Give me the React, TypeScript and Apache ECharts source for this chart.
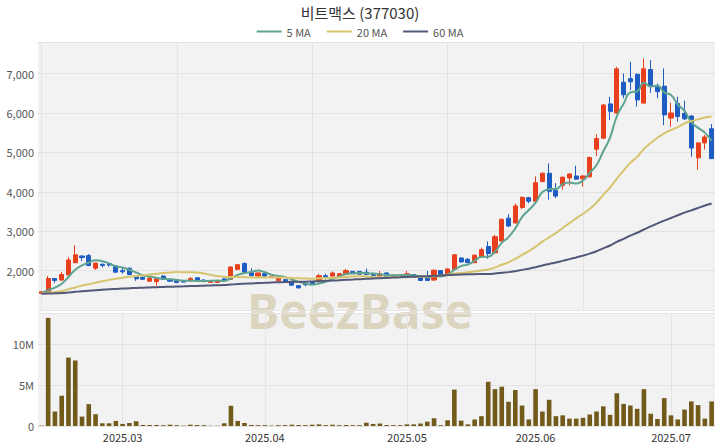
import { useEffect, useRef } from 'react';
import * as echarts from 'echarts';

const dates = [
  '2025-02-13','2025-02-14','2025-02-17','2025-02-18','2025-02-19','2025-02-20','2025-02-21','2025-02-24','2025-02-25','2025-02-26','2025-02-27','2025-02-28',
  '2025-03-03','2025-03-04','2025-03-05','2025-03-06','2025-03-07','2025-03-10','2025-03-11','2025-03-12','2025-03-13','2025-03-14','2025-03-17','2025-03-18','2025-03-19','2025-03-20','2025-03-21','2025-03-24','2025-03-25','2025-03-26','2025-03-27','2025-03-28','2025-03-31',
  '2025-04-01','2025-04-02','2025-04-03','2025-04-04','2025-04-07','2025-04-08','2025-04-09','2025-04-10','2025-04-11','2025-04-14','2025-04-15','2025-04-16','2025-04-17','2025-04-18','2025-04-21','2025-04-22','2025-04-23','2025-04-24','2025-04-25','2025-04-28','2025-04-29',
  '2025-05-02','2025-05-07','2025-05-08','2025-05-09','2025-05-12','2025-05-13','2025-05-14','2025-05-15','2025-05-16','2025-05-19','2025-05-20','2025-05-21','2025-05-22','2025-05-23','2025-05-26','2025-05-27','2025-05-28','2025-05-29','2025-05-30',
  '2025-06-02','2025-06-04','2025-06-05','2025-06-09','2025-06-10','2025-06-11','2025-06-12','2025-06-13','2025-06-16','2025-06-17','2025-06-18','2025-06-19','2025-06-20','2025-06-23','2025-06-24','2025-06-25','2025-06-26','2025-06-27','2025-06-30','2025-06-30b',
  '2025-07-01','2025-07-02','2025-07-03','2025-07-04','2025-07-07','2025-07-08','2025-07-09'
];

const opens = [1420,1460,1800,1760,1890,2200,2370,2380,2060,2160,2180,2120,2000,2060,1860,1830,1730,1720,1860,1780,1770,1720,1740,1820,1760,1700,1700,1790,1780,2030,2180,1950,1860,1920,1830,1740,1770,1730,1620,1680,1700,1720,1870,1860,1860,1900,1980,1980,1960,1920,1860,1940,1850,1860,1850,1900,1840,1840,1760,2000,1920,2030,2320,2290,2200,2350,2610,2450,2750,3330,3210,3600,3850,3760,4260,4470,4040,4160,4350,4400,4330,4380,5080,5360,6230,6000,6780,6870,6980,6250,7100,6660,6680,5870,6240,5990,5920,4860,5240,5600];
const closes = [1460,1800,1750,1900,2270,2400,2330,2130,2190,2130,2140,1960,1970,1900,1790,1780,1810,1800,1780,1730,1700,1710,1800,1740,1720,1730,1740,1750,2090,2150,1960,1870,1940,1860,1845,1810,1720,1630,1560,1640,1660,1870,1845,1940,1920,2000,1930,1910,1900,1880,1920,1830,1880,1890,1920,1850,1750,1750,2010,1900,2040,2400,2220,2200,2390,2530,2430,2860,3300,3130,3640,3860,3760,4230,4470,4010,3890,4370,4450,4320,4400,4870,5350,6200,6040,7120,6460,6790,6330,7120,6670,6540,5950,6000,5910,5850,5110,5240,5390,4840];
const lows = [1410,1440,1690,1740,1880,2190,2240,2110,2020,2080,2100,1950,1920,1880,1740,1760,1720,1620,1770,1710,1680,1700,1730,1730,1710,1690,1690,1740,1770,2020,1940,1860,1850,1850,1820,1730,1710,1620,1550,1600,1650,1710,1770,1850,1850,1890,1920,1900,1890,1840,1850,1820,1840,1850,1840,1840,1740,1740,1740,1890,1910,2020,2200,2190,2190,2340,2300,2430,2740,3110,3190,3560,3710,3740,4240,3800,3840,4050,4160,4300,4130,4360,4900,5340,5820,5980,6370,6580,6160,6240,6510,6370,5690,5650,5780,5820,4890,4560,5070,4830];
const highs = [1470,1860,1810,1970,2340,2640,2390,2420,2200,2180,2200,2140,2080,2080,1880,1840,1830,1820,1880,1790,1780,1740,1840,1830,1780,1740,1750,1800,2110,2160,2210,2060,1950,1930,1850,1830,1780,1740,1630,1700,1710,1920,1920,1980,1940,2040,1990,1990,2050,1950,1990,1950,1900,1900,1990,1910,1850,1990,2030,2010,2060,2420,2340,2310,2410,2580,2740,2910,3320,3430,3700,3880,3870,4390,4490,4720,4220,4390,4470,4660,4420,4890,5460,6230,6410,7170,7000,7300,7000,7380,7340,6750,7130,6260,6410,6310,5950,5260,5440,5720];

const volumesM = [0.05,13.2,1.77,3.7,8.35,8.0,1.15,2.67,1.44,0.33,0.33,0.62,0.25,0.37,0.58,0.12,0.12,0.12,0.1,0.16,0.1,0.05,0.16,0.12,0.1,0.03,0.03,0.33,2.47,0.62,0.37,0.12,0.1,0.1,0.05,0.1,0.1,0.16,0.12,0.1,0.16,0.2,0.1,0.16,0.1,0.12,0.1,0.1,0.4,0.25,0.3,0.12,0.1,0.1,0.2,0.2,0.3,0.53,0.95,0.1,0.7,4.45,0.66,0.2,0.8,1.2,5.4,4.5,4.8,2.96,4.4,2.5,0.8,4.5,1.77,3.2,1.2,1.3,0.9,0.9,1.0,1.4,1.77,2.4,1.36,4.0,2.7,2.5,2.1,4.5,1.5,0.86,3.4,1.3,0.8,2.0,3.0,2.55,0.9,3.0];

const ma5 = [1428,1504,1570,1666,1836,2024,2130,2206,2264,2236,2184,2110,2078,2020,1952,1880,1850,1816,1792,1780,1764,1744,1744,1736,1734,1740,1746,1736,1806,1892,1938,1964,2002,1956,1895,1865,1835,1773,1713,1672,1642,1672,1715,1791,1847,1915,1927,1940,1932,1924,1908,1888,1882,1880,1888,1874,1858,1832,1856,1852,1890,2020,2114,2152,2250,2348,2354,2482,2702,2850,3072,3358,3538,3724,3992,4066,4072,4194,4238,4208,4286,4482,4678,5028,5372,5916,6234,6522,6548,6764,6674,6690,6522,6456,6214,6050,5764,5622,5500,5286];
const ma20 = [1422,1441,1458,1482,1524,1573,1619,1654,1693,1728,1764,1791,1819,1843,1861,1879,1899,1918,1936,1951,1963,1959,1961,1953,1926,1892,1863,1844,1839,1840,1831,1826,1825,1823,1825,1827,1822,1814,1803,1798,1796,1804,1807,1817,1827,1840,1850,1858,1848,1835,1833,1831,1828,1829,1833,1835,1836,1842,1865,1878,1897,1923,1942,1955,1979,2005,2030,2078,2148,2210,2296,2398,2492,2609,2736,2844,2951,3082,3204,3325,3443,3567,3723,3923,4106,4335,4537,4733,4885,5084,5236,5370,5479,5568,5640,5732,5793,5836,5883,5909];
const ma60 = [1410,1416,1422,1430,1445,1461,1476,1488,1501,1514,1526,1535,1544,1552,1559,1565,1572,1578,1584,1590,1595,1600,1606,1612,1617,1622,1628,1633,1645,1657,1666,1674,1683,1690,1698,1704,1709,1713,1716,1719,1724,1731,1739,1747,1756,1766,1774,1783,1791,1799,1807,1814,1822,1830,1839,1846,1852,1857,1867,1876,1885,1895,1903,1908,1910,1912,1914,1926,1945,1961,1986,2018,2048,2087,2131,2169,2203,2246,2291,2334,2379,2431,2491,2565,2637,2727,2805,2889,2960,3043,3121,3199,3266,3335,3403,3470,3527,3587,3651,3704];

const UP = '#e8401c';
const DOWN = '#1f5cc2';
const MA5C = '#5ea38f';
const MA20C = '#d6c46e';
const MA60C = '#515878';
const VOLC = '#725a1b';
const FONT = '"Noto Sans CJK KR", "Noto Sans", sans-serif';

const monthStart = (idx: number) =>
  idx > 0 && dates[idx].slice(0, 7) !== dates[idx - 1].slice(0, 7);

export default function App() {
  const ref = useRef<HTMLDivElement>(null);
  useEffect(() => {
    document.body.style.margin = '0';
    if (!ref.current) return;
    const chart = echarts.init(ref.current, undefined, { renderer: 'svg' });
    const candleData = opens.map((o, i) => [o, closes[i], lows[i], highs[i]]);
    const gridLine = { color: '#e3e3e3', width: 1 };
    chart.setOption({
      animation: false,
      textStyle: { fontFamily: FONT },
      title: {
        text: '비트맥스 (377030)',
        left: 'center',
        top: 0,
        padding: [3, 5, 2, 5],
        textStyle: { fontSize: 15, fontWeight: 'normal', color: '#333', fontFamily: FONT, lineHeight: 18 },
      },
      legend: {
        top: 25,
        left: 'center',
        padding: [0, 5, 0, 5],
        icon: 'rect',
        itemWidth: 25,
        itemHeight: 2,
        itemGap: 16,
        textStyle: { fontSize: 11, color: '#555', fontFamily: FONT, lineHeight: 13 },
        data: ['5 MA', '20 MA', '60 MA'],
      },
      graphic: [
        {
          type: 'text',
          left: 'center',
          top: 286,
          z: 0,
          zlevel: 0,
          silent: true,
          style: {
            text: 'BeezBase',
            fill: 'rgba(196,184,140,0.5)',
            font: 'bold 48px "Open Sans", "Noto Sans", sans-serif',
          },
        },
      ],
      grid: [
        { left: 38, right: 5, top: 42, height: 268, show: true, backgroundColor: '#f2f2f2', borderWidth: 0 },
        { left: 38, right: 5, top: 313, bottom: 22, show: true, backgroundColor: '#f2f2f2', borderWidth: 0 },
      ],
      xAxis: [
        {
          type: 'category',
          gridIndex: 0,
          data: dates,
          boundaryGap: true,
          axisLine: { show: false },
          axisTick: { show: false },
          axisLabel: { show: false },
          splitLine: { show: true, interval: 19, alignWithLabel: true, lineStyle: gridLine },
        },
        {
          type: 'category',
          gridIndex: 1,
          data: dates,
          boundaryGap: true,
          axisLine: { show: false },
          axisTick: { show: false },
          axisLabel: {
            interval: (idx: number) => monthStart(idx),
            formatter: (v: string) => v.slice(0, 7).replace('-', '.'),
            fontSize: 11,
            color: '#333',
            margin: 5,
          },
          splitLine: { show: true, interval: (idx: number) => monthStart(idx), alignWithLabel: true, lineStyle: gridLine },
        },
      ],
      yAxis: [
        {
          type: 'value',
          gridIndex: 0,
          min: 1000,
          max: 7800,
          interval: 1000,
          axisLine: { show: false },
          axisTick: { show: false },
          axisLabel: {
            showMinLabel: false,
            showMaxLabel: false,
            fontSize: 11,
            color: '#555',
            margin: 4,
            formatter: (v: number) => v.toLocaleString('en-US'),
          },
          splitLine: { show: true, lineStyle: gridLine },
        },
        {
          type: 'value',
          gridIndex: 1,
          min: 0,
          max: 13.8,
          interval: 5,
          axisLine: { show: false },
          axisTick: { show: false },
          axisLabel: {
            showMaxLabel: false,
            fontSize: 11,
            color: '#555',
            margin: 4,
            formatter: (v: number) => (v === 0 ? '0' : v + 'M'),
          },
          splitLine: { show: true, lineStyle: gridLine },
        },
      ],
      series: [
        {
          type: 'candlestick',
          name: 'price',
          xAxisIndex: 0,
          yAxisIndex: 0,
          data: candleData,
          barWidth: '68%',
          itemStyle: { color: UP, color0: DOWN, borderColor: UP, borderColor0: DOWN, borderWidth: 1 },
          z: 3,
        },
        {
          type: 'line', name: '5 MA', data: ma5, xAxisIndex: 0, yAxisIndex: 0,
          symbol: 'none', smooth: true, lineStyle: { color: MA5C, width: 2 }, itemStyle: { color: MA5C }, z: 4,
        },
        {
          type: 'line', name: '20 MA', data: ma20, xAxisIndex: 0, yAxisIndex: 0,
          symbol: 'none', smooth: true, lineStyle: { color: MA20C, width: 2 }, itemStyle: { color: MA20C }, z: 4,
        },
        {
          type: 'line', name: '60 MA', data: ma60, xAxisIndex: 0, yAxisIndex: 0,
          symbol: 'none', smooth: true, lineStyle: { color: MA60C, width: 2 }, itemStyle: { color: MA60C }, z: 4,
        },
        {
          type: 'bar',
          name: 'volume',
          xAxisIndex: 1,
          yAxisIndex: 1,
          data: volumesM,
          barWidth: '68%',
          itemStyle: { color: VOLC },
        },
      ],
    });
    return () => chart.dispose();
  }, []);
  return <div ref={ref} style={{ width: 720, height: 448 }} />;
}
